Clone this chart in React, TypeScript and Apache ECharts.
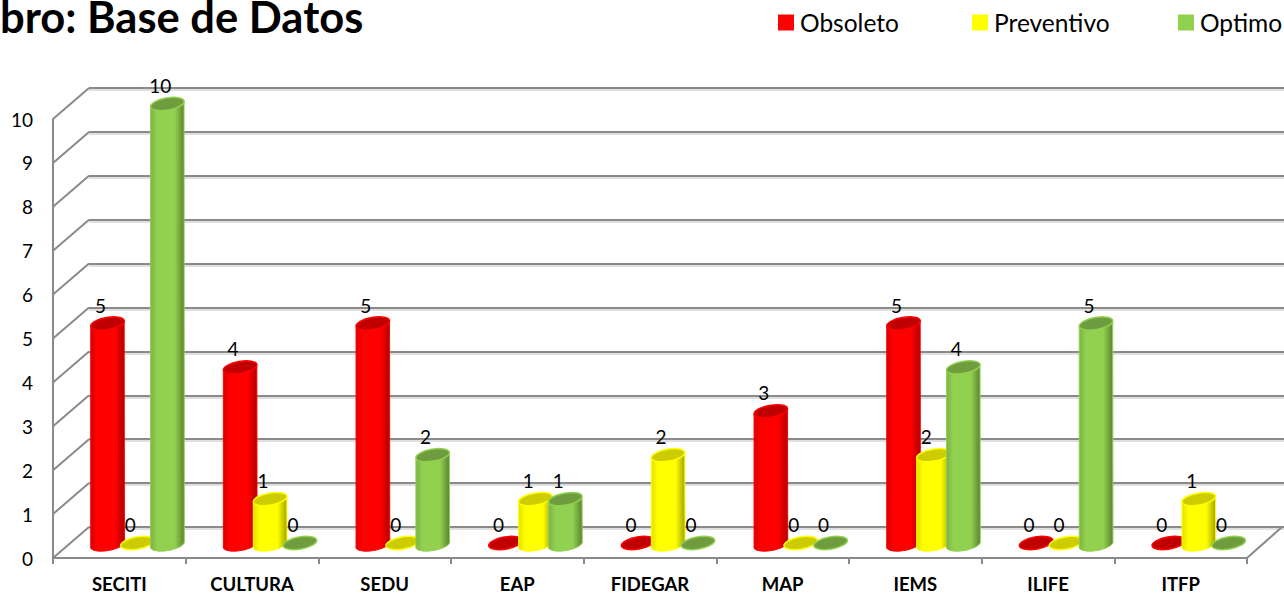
import React, { useEffect, useRef } from "react";
import * as echarts from "echarts";

const categories = ["SECITI", "CULTURA", "SEDU", "EAP", "FIDEGAR", "MAP", "IEMS", "ILIFE", "ITFP"];
const obsoleto = [5, 4, 5, 0, 0, 3, 5, 0, 0];
const preventivo = [0, 1, 0, 1, 2, 0, 2, 0, 1];
const optimo = [10, 0, 2, 1, 0, 0, 4, 5, 0];
const wallTicks = [0, 1, 2, 3, 4, 5, 6, 7, 8, 9, 10];
const titleText = "bro: Base de Datos";

const FONT = "Lato";
const DEPTH_X = 36;
const DEPTH_Y = 31;
const FRONT = { left: 53, right: 37, top: 119, bottom: 35, outerBoundsMode: "none" };
const GRID_COLOR = "#8a8a8a";
const GRID_SHADOW = "#d4d4d4";

type Look = { name: string; base: string; top: string; stops: string[] };
const looks: Look[] = [
  { name: "Obsoleto", base: "#ff0000", top: "#c00000", stops: ["#d80000", "#ff0000", "#ff0000", "#b00000"] },
  { name: "Preventivo", base: "#ffff00", top: "#cccc00", stops: ["#e0e000", "#ffff00", "#ffff00", "#a3a300"] },
  { name: "Optimo", base: "#92d050", top: "#6f9c3e", stops: ["#7cb044", "#92d050", "#92d050", "#5b8231"] },
];
const seriesValues = [obsoleto, preventivo, optimo];

const TILT = (10 * Math.PI) / 180;

function cylinder(look: Look, slot: number) {
  return (_params: any, api: any) => {
    const bandW = api.size([1, 0])[0];
    const spacing = bandW * 0.2256;
    const a = bandW * 0.128; // half width
    const b = 6;
    const [catX, y0] = api.coord([api.value(0), 0]);
    const [, yV] = api.coord([api.value(0), api.value(1)]);
    const cx = catX + bandW * 0.136 + slot * spacing;
    const baseY = y0 - 15;
    const topY = yV - 15;
    const dx = a * Math.cos(TILT);
    const dy = a * Math.sin(TILT);
    const deg = (-TILT * 180) / Math.PI;
    const children: any[] = [];
    if (api.value(1) > 0) {
      children.push({
        type: "path",
        shape: {
          pathData:
            `M${cx - dx} ${topY + dy} L${cx - dx} ${baseY + dy} ` +
            `A${a} ${b} ${deg} 0 0 ${cx + dx} ${baseY - dy} L${cx + dx} ${topY - dy} Z`,
        },
        style: {
          fill: {
            type: "linear", x: 0, y: 0, x2: 1, y2: 0,
            colorStops: [
              { offset: 0, color: look.stops[0] },
              { offset: 0.2, color: look.stops[1] },
              { offset: 0.72, color: look.stops[2] },
              { offset: 1, color: look.stops[3] },
            ],
          },
          stroke: look.base,
          lineWidth: 1,
        },
      });
    }
    children.push({
      type: "ellipse",
      x: cx,
      y: topY,
      rotation: TILT,
      shape: { cx: 0, cy: 0, rx: a, ry: b },
      style: { fill: look.top, stroke: look.base, lineWidth: 1.5 },
    });
    children.push({
      type: "text",
      x: cx - 7,
      y: topY - 18.5,
      style: {
        text: String(api.value(1)),
        font: `19px ${FONT}`,
        fill: "#000",
        align: "center",
        verticalAlign: "middle",
      },
    });
    return { type: "group", children };
  };
}

function walls(params: any, api: any) {
  const v = api.value(1);
  const [, y] = api.coord([0, v]);
  const left = params.coordSys.x;
  const style = { stroke: GRID_COLOR, lineWidth: 2 };
  const children: any[] = [
    { type: "line", shape: { x1: left, y1: y, x2: left + DEPTH_X, y2: y - DEPTH_Y }, style },
  ];
  if (v === 0) {
    const right = left + params.coordSys.width;
    children.push({ type: "line", shape: { x1: right, y1: y, x2: right + DEPTH_X - 1, y2: y - DEPTH_Y }, style });
  }
  return { type: "group", children };
}

const legendLefts = [778, 972, 1178];

function backGrid(shift: number) {
  return {
    left: FRONT.left + DEPTH_X,
    right: 0,
    top: FRONT.top - DEPTH_Y + shift,
    bottom: FRONT.bottom + DEPTH_Y - shift,
    outerBoundsMode: "none",
  };
}

function backYAxis(gridIndex: number, color: string, width: number, z: number) {
  return {
    type: "value",
    gridIndex,
    min: 0,
    max: 10,
    interval: 1,
    z,
    axisLine: { show: false },
    axisTick: { show: false },
    axisLabel: { show: false },
    splitLine: { show: true, lineStyle: { color, width } },
  };
}

export default function App() {
  const ref = useRef<HTMLDivElement>(null);
  useEffect(() => {
    document.body.style.margin = "0";
    const chart = echarts.init(ref.current!, undefined, { renderer: "svg" });
    chart.setOption({
      animation: false,
      backgroundColor: "#fff",
      textStyle: { fontFamily: FONT },
      title: {
        text: titleText,
        left: -5,
        top: -11,
        textStyle: { fontFamily: FONT, fontWeight: "bold", fontSize: 43.5, color: "#000" },
      },
      legend: looks.map((l, i) => ({
        left: legendLefts[i],
        top: 10,
        padding: 0,
        itemWidth: 16,
        itemHeight: 16,
        itemGap: 0,
        selectedMode: false,
        data: [{ name: l.name, icon: "rect", itemStyle: { color: l.base } }],
        textStyle: { fontFamily: FONT, fontSize: 24.5, color: "#000", padding: [0, 0, 0, 1] },
      })),
      grid: [{ ...FRONT }, backGrid(0), backGrid(2)],
      xAxis: [
        {
          type: "category",
          gridIndex: 0,
          data: categories,
          axisLine: { lineStyle: { color: GRID_COLOR, width: 2 } },
          axisTick: { show: true, length: 6, lineStyle: { color: GRID_COLOR, width: 2 } },
          axisLabel: { fontFamily: FONT, fontSize: 18.5, fontWeight: "bold", color: "#000", margin: 16 },
        },
        { type: "category", gridIndex: 1, data: categories, show: false },
        { type: "category", gridIndex: 2, data: categories, show: false },
      ],
      yAxis: [
        {
          type: "value",
          gridIndex: 0,
          min: 0,
          max: 10,
          interval: 1,
          axisLine: { show: true, lineStyle: { color: GRID_COLOR, width: 2 } },
          axisTick: { show: false },
          splitLine: { show: false },
          axisLabel: { fontFamily: FONT, fontSize: 19, color: "#000", margin: 20, padding: [3, 0, 0, 0] },
        },
        backYAxis(1, GRID_COLOR, 2, 1),
        backYAxis(2, GRID_SHADOW, 1.5, 0),
      ],
      series: [
        {
          type: "custom",
          name: "walls",
          xAxisIndex: 0,
          yAxisIndex: 0,
          silent: true,
          data: wallTicks.map((v) => [0, v]),
          renderItem: walls,
          z: 1,
        },
        ...looks.map((l, i) => ({
          type: "custom",
          name: l.name,
          xAxisIndex: 0,
          yAxisIndex: 0,
          itemStyle: { color: l.base },
          data: seriesValues[i].map((v, c) => [c, v]),
          renderItem: cylinder(l, i - 1),
          z: 3 + i,
        })),
      ],
    });
    return () => chart.dispose();
  }, []);
  return <div ref={ref} style={{ width: 1284, height: 593 }} />;
}
